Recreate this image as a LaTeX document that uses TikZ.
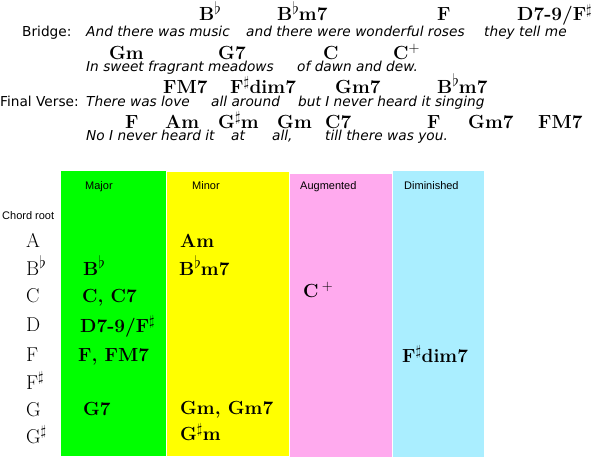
\documentclass[tikz,border=0pt]{standalone}
\usepackage{fontspec}
\setsansfont{DejaVu Sans}
\newfontfamily\colfont{Liberation Sans}
\usetikzlibrary{positioning}
\usepackage{xcolor}
\definecolor{majorgreen}{rgb}{0, 1, 0}
\definecolor{minoryellow}{rgb}{1, 1, 0}
\definecolor{augpink}{rgb}{1, 0.667, 0.933}
\definecolor{dimcyan}{rgb}{0.667, 0.933, 1}
\newcommand{\chordfont}{\fontsize{19}{22}\selectfont\bfseries}
\newcommand{\rootfont}{\fontsize{20}{22}\selectfont}
\newcommand{\lyricfont}{\fontsize{13.7}{16}\selectfont\sffamily}
% Tall raised flat, as the chord sheet prints it.
\newcommand{\fl}{\raisebox{6.5pt}{\fontsize{16}{16}\selectfont$\flat$}}
\newcommand{\sh}{$^\sharp$}

\begin{document}
\begin{tikzpicture}[x=1pt,y=-1pt]
	\useasboundingbox (0,0) rectangle (593,458);

	\tikzstyle{chord}=[anchor=base west, inner sep=0pt, font=\chordfont]
	\tikzstyle{lyric}=[anchor=base west, inner sep=0pt, font=\lyricfont\itshape]
	\tikzstyle{part}=[anchor=base west, inner sep=0pt, font=\lyricfont]
	\tikzstyle{colhead}=[anchor=base west, inner sep=0pt, font=\colfont\fontsize{11}{13}\selectfont]
	\tikzstyle{chordroot}=[anchor=base west, inner sep=0pt, font=\rootfont]

	% Song parts.
	\node at (22,36.7) [part] (bridge) {Bridge:};
	\node at (0,106) [part] (final) {Final Verse:};

	% Chords above the lyrics.
	\foreach \x/\c [count=\i] in {199/{B\fl}, 277/{B\fl m7}, 437/F, 517/{D7-9/F\sh}}
		\node at (\x,20.5) [chord] (chA\i) {\c};
	\foreach \x/\c [count=\i] in {109/Gm, 218/G7, 323/C, 393/{C$^+$}}
		\node at (\x,59) [chord] (chB\i) {\c};
	\foreach \x/\c [count=\i] in {163/FM7, 230/{F\sh dim7}, 335/Gm7, 437/{B\fl m7}}
		\node at (\x,93) [chord] (chC\i) {\c};
	\foreach \x/\c [count=\i] in {125/F, 165/Am, 218/{G\sh m}, 277/Gm, 325/C7, 427/F, 468/Gm7, 538/FM7}
		\node at (\x,128) [chord] (chD\i) {\c};

	% Lyrics.
	\foreach \x/\t [count=\i] in {86/And there was music, 246/and there were wonderful roses, 484/they tell me}
		\node at (\x,36.7) [lyric] (lyA\i) {\t};
	\foreach \x/\t [count=\i] in {86/In sweet fragrant meadows, 297/of dawn and dew.}
		\node at (\x,71.7) [lyric] (lyB\i) {\t};
	\foreach \x/\t [count=\i] in {86/There was love, 211/all around, 298/but I never heard it singing}
		\node at (\x,106) [lyric] (lyC\i) {\t};
	\foreach \x/\t [count=\i] in {86/No I never heard it, 231/at, 272/{all,}, 325/till there was you.}
		\node at (\x,140) [lyric] (lyD\i) {\t};

	% Chord table columns.
	\fill [majorgreen] (61,171) rectangle (166,456);
	\fill [minoryellow] (167,172) rectangle (289,456);
	\fill [augpink] (290,174) rectangle (392,457);
	\fill [dimcyan] (393,171) rectangle (484,457);

	\node at (85,189) [colhead] (hmajor) {Major};
	\node at (192,189) [colhead] (hminor) {Minor};
	\node at (300,189) [colhead] (haug) {Augmented};
	\node at (404,189) [colhead] (hdim) {Diminished};
	\node at (2,219) [colhead] (hroot) {Chord root};

	% Roots down the left side.
	\foreach \y/\r [count=\i] in {247/A, 275/{B\fl}, 302/C, 331/D, 361/F, 389/{F\sh}, 416/G, 443/{G\sh}}
		\node at (26,\y) [chordroot] (root\i) {\r};

	% Chords sorted by kind.
	\foreach \x/\y/\c [count=\i] in {83/275/{B\fl}, 82/302/{C, C7}, 80/332/{D7-9/F\sh}, 78/361/{F, FM7}, 83/415/G7}
		\node at (\x,\y) [chord] (maj\i) {\c};
	\foreach \x/\y/\c [count=\i] in {180/247/Am, 179/275/{B\fl m7}, 180/414/{Gm, Gm7}, 180/440/{G\sh m}}
		\node at (\x,\y) [chord] (min\i) {\c};
	\node at (303,297) [chord] (aug1) {C\,$^+$};
	\node at (402,362) [chord] (dim1) {F\sh dim7};
\end{tikzpicture}
\end{document}
